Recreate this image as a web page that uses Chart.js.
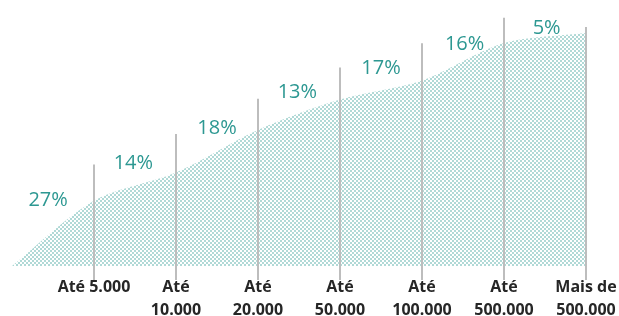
<!DOCTYPE html>
<html>
<head>
<meta charset="utf-8">
<script src="https://cdn.jsdelivr.net/npm/chart.js@4"></script>
<style>
  html, body { margin: 0; padding: 0; background: #fff; overflow: hidden; }
</style>
</head>
<body>
<canvas id="chart" width="619" height="330"></canvas>
<script>
// categories (tick at each divider line), index 0 is the origin of the curve
const categories = ['', 'Até 5.000', ['Até', '10.000'], ['Até', '20.000'], ['Até', '50.000'],
    ['Até', '100.000'], ['Até', '500.000'], ['Mais de', '500.000']];
// height of the shaded curve at each divider
const curveValues = [0, 28.0, 40.1, 58.4, 71.4, 79.6, 95.7, 100];
// share labels between dividers
const shares = [27, 14, 18, 13, 17, 16, 5];
const shareX = [0.44, 1.48, 2.5, 3.48, 4.5, 5.52, 6.52];
const shareY = [28.0, 44.0, 59.0, 74.6, 84.8, 95.0, 102.2];
// top of each vertical divider
const dividerTop = [43.5, 56.6, 71.8, 85.2, 95.6, 106.5, 102.6];

const makePattern = () => {
    const c = document.createElement('canvas');
    c.width = 4; c.height = 4;
    const g = c.getContext('2d');
    g.fillStyle = '#ffffff';
    g.fillRect(0, 0, 4, 4);
    g.fillStyle = '#b0d9d6';
    g.fillRect(0, 0, 2, 2);
    g.fillRect(2, 2, 2, 2);
    return document.getElementById('chart').getContext('2d').createPattern(c, 'repeat');
};

const dividers = {
    id: 'dividers',
    afterDatasetsDraw(chart) {
        const { ctx, scales: { x, y } } = chart;
        ctx.save();
        ctx.strokeStyle = '#bdbdbd';
        ctx.lineWidth = 2;
        dividerTop.forEach((top, i) => {
            const px = Math.round(x.getPixelForValue(i + 1));
            ctx.beginPath();
            ctx.moveTo(px, y.getPixelForValue(y.min));
            ctx.lineTo(px, y.getPixelForValue(top));
            ctx.stroke();
        });
        ctx.fillStyle = '#2d9892';
        ctx.font = '20px "Open Sans"';
        ctx.textAlign = 'center';
        ctx.textBaseline = 'middle';
        shares.forEach((s, i) => {
            ctx.fillText(s + '%', x.getPixelForValue(shareX[i]), y.getPixelForValue(shareY[i]));
        });
        ctx.restore();
    }
};

new Chart(document.getElementById('chart'), {
    type: 'line',
    data: {
        datasets: [{
            data: curveValues.map((v, i) => ({ x: i, y: v })),
            fill: 'origin',
            backgroundColor: makePattern(),
            borderWidth: 0,
            pointRadius: 0,
            tension: 0.3
        }]
    },
    options: {
        responsive: false,
        animation: false,
        layout: { padding: { left: 12, right: 33, top: 5, bottom: 12 } },
        plugins: { legend: { display: false }, tooltip: { enabled: false } },
        scales: {
            x: {
                type: 'linear',
                min: 0,
                max: 7,
                grid: { display: false, drawTicks: false },
                border: { display: false },
                ticks: {
                    stepSize: 1,
                    autoSkip: false,
                    maxRotation: 0,
                    padding: -4,
                    color: '#262626',
                    font: { family: '"Open Sans"', size: 16, weight: 'bold', lineHeight: 1.44 },
                    callback: (v) => categories[v]
                }
            },
            y: {
                display: false,
                min: -6,
                max: 112
            }
        }
    },
    plugins: [dividers]
});
</script>
</body>
</html>
